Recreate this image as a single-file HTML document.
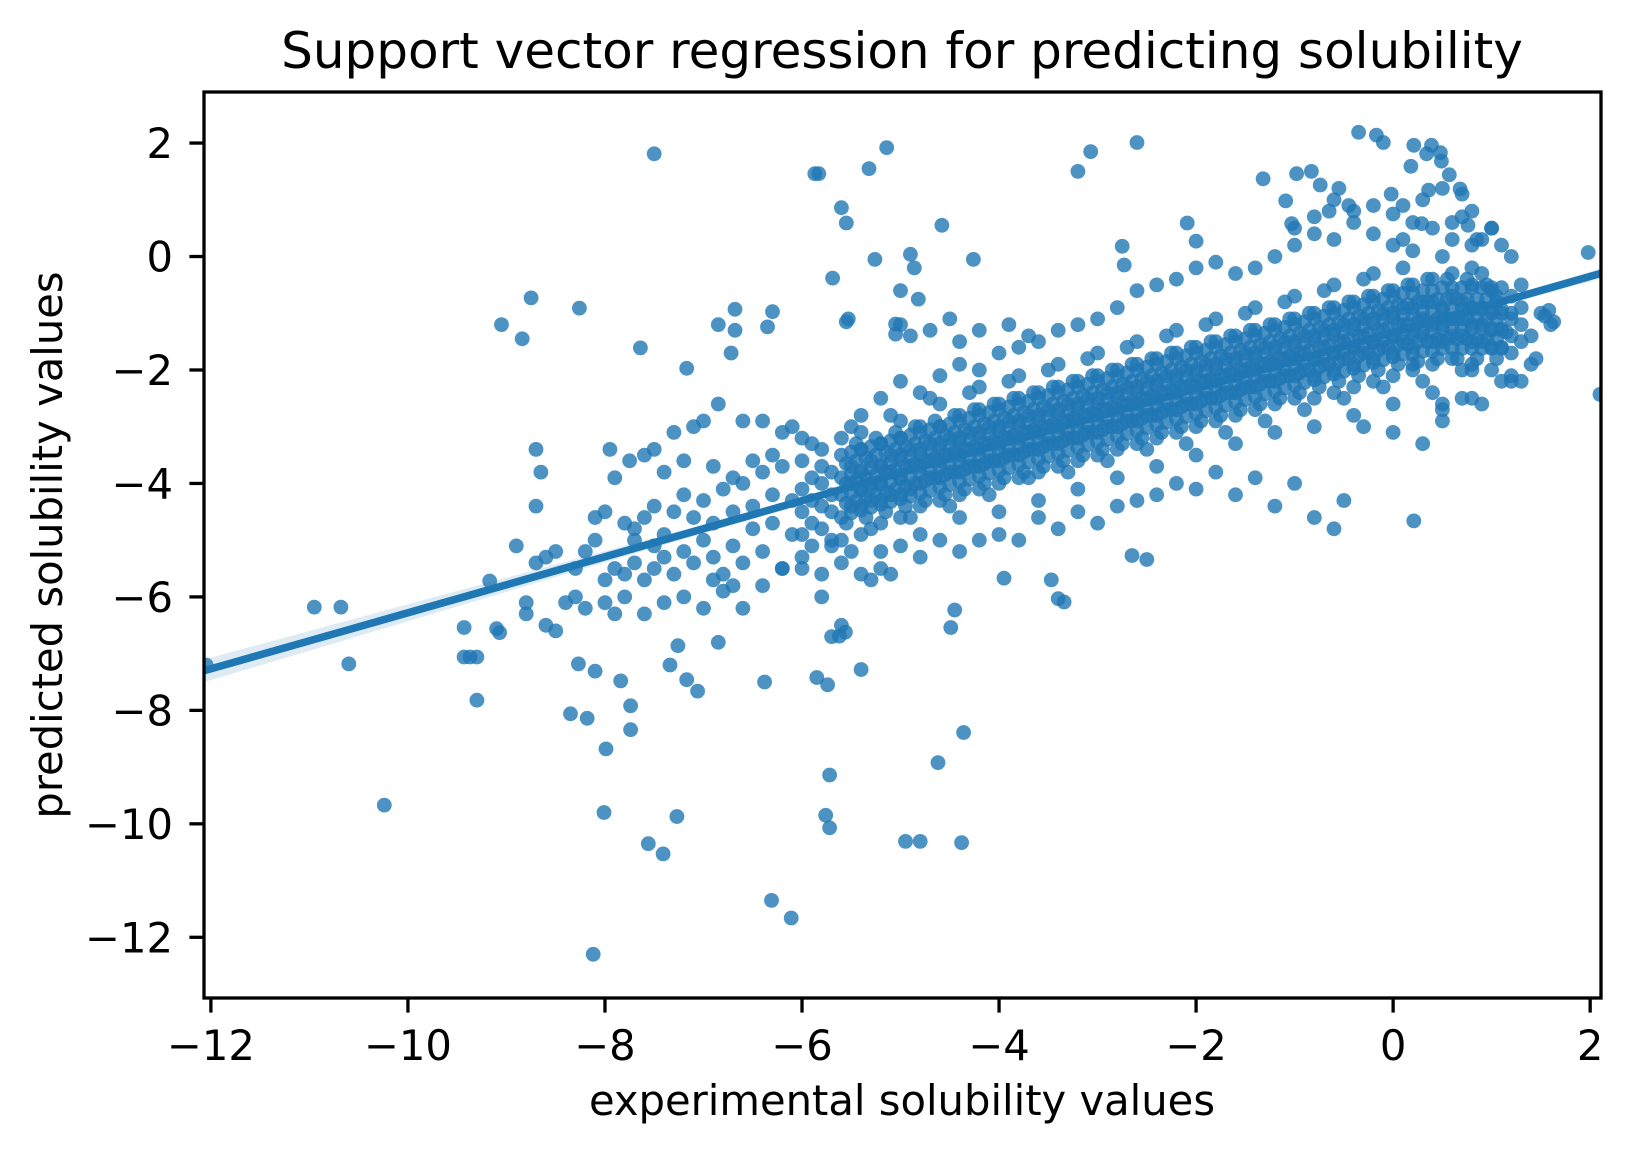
<!DOCTYPE html>
<html><head><meta charset="utf-8"><style>
html,body{margin:0;padding:0;background:#fff;}
svg{display:block;font-family:"DejaVu Sans","Liberation Sans",sans-serif;}
</style></head><body>
<svg id="chart" width="1628" height="1154" viewBox="0 0 1628 1154" xmlns="http://www.w3.org/2000/svg">
<rect width="1628" height="1154" fill="#fff"/>
<defs><clipPath id="plotClip"><rect x="204" y="92" width="1397" height="906"/></clipPath></defs>
<g id="ci" clip-path="url(#plotClip)"></g>
<g id="pts" clip-path="url(#plotClip)"></g>
<g id="fit" clip-path="url(#plotClip)"></g>
<rect x="204" y="92" width="1397" height="906" fill="none" stroke="#000" stroke-width="3.3"/>
<g id="xticks"></g>
<g id="yticks"></g>
<text x="902" y="68" font-size="50" text-anchor="middle">Support vector regression for predicting solubility</text>
<text x="902" y="1115" font-size="41.7" text-anchor="middle">experimental solubility values</text>
<text x="0" y="0" font-size="41.7" text-anchor="middle" transform="translate(62,545) rotate(-90)">predicted solubility values</text>
</svg>
<script>
const xTicks=[-12,-10,-8,-6,-4,-2,0,2];
const yTicks=[2,0,-2,-4,-6,-8,-10,-12];
const fitSlope=0.494;
const fitIntercept=-1.34;
const ciX=[-12.1,-10,-8,-6,-4,-2,0,2.2];
const ciHalf=[0.2,0.15,0.1,0.06,0.04,0.035,0.05,0.09];
const bandX=[-6.0,-5.9,-5.8,-5.7,-5.6,-5.5,-5.4,-5.3,-5.2,-5.1,-5.0,-4.9,-4.8,-4.7,-4.6,-4.5,-4.4,-4.3,-4.2,-4.1,-4.0,-3.9,-3.8,-3.7,-3.6,-3.5,-3.4,-3.3,-3.2,-3.1,-3.0,-2.9,-2.8,-2.7,-2.6,-2.5,-2.4,-2.3,-2.2,-2.1,-2.0,-1.9,-1.8,-1.7,-1.6,-1.5,-1.4,-1.3,-1.2,-1.1,-1.0,-0.9,-0.8,-0.7,-0.6,-0.5,-0.4,-0.3,-0.2,-0.1,0.0,0.1,0.2,0.3,0.4,0.5,0.6,0.7,0.8,0.9,1.0,1.1,1.2,1.3];
const bandY=[
[-3.6,-4.1,-4.5,-4.9,-5.3],[-3.9,-4.3,-4.7,-3.3],
[-3.7,-4.0,-4.4,-4.8,-3.4],[-3.8,-4.2,-4.5,-5.1],
[-3.5,-3.9,-4.2,-4.6,-5.0,-3.2],[-3.7,-4.0,-4.4,-3.0],
[-3.4,-3.8,-4.1,-4.4,-4.9,-3.1],[-3.6,-4.0,-4.3,-4.8],
[-3.3,-3.7,-4.0,-4.3,-4.7,-5.2],[-3.5,-3.8,-4.2,-2.8],
[-3.2,-3.5,-3.9,-4.2,-4.6,-2.9],[-3.4,-3.7,-4.1,-4.6],
[-3.0,-3.4,-3.7,-4.0,-4.4,-4.9],[-3.3,-3.6,-3.9,-2.5],
[-3.0,-3.3,-3.6,-3.9,-4.3,-2.6],[-3.2,-3.5,-3.8,-4.4],
[-2.8,-3.2,-3.5,-3.8,-4.2,-4.6],[-3.1,-3.4,-3.7,-2.4],
[-2.7,-3.1,-3.4,-3.7,-4.1,-2.3],[-3.0,-3.3,-3.6,-4.2],
[-2.6,-3.0,-3.3,-3.6,-4.0,-4.5],[-2.9,-3.2,-3.5,-2.2],
[-2.5,-2.9,-3.2,-3.5,-3.9,-2.1],[-2.8,-3.1,-3.4,-3.9],
[-2.4,-2.8,-3.1,-3.4,-3.8,-4.3],[-2.7,-3.0,-3.3,-2.0],
[-2.3,-2.7,-3.0,-3.3,-3.7,-1.9],[-2.6,-2.9,-3.2,-3.8],
[-2.2,-2.6,-2.9,-3.2,-3.6,-4.1],[-2.5,-2.8,-3.1,-1.8],
[-2.1,-2.5,-2.8,-3.1,-3.5,-1.7],[-2.4,-2.7,-3.0,-3.6],
[-2.0,-2.4,-2.7,-3.0,-3.4,-3.9],[-2.3,-2.6,-2.9,-1.6],
[-1.9,-2.3,-2.6,-2.9,-3.3,-1.5],[-2.2,-2.5,-2.8,-3.4],
[-1.8,-2.2,-2.5,-2.8,-3.2,-3.7],[-2.1,-2.4,-2.7,-1.4],
[-1.7,-2.1,-2.4,-2.7,-3.1,-1.3],[-2.0,-2.3,-2.6,-3.3],
[-1.6,-2.0,-2.3,-2.6,-3.0,-3.5],[-1.9,-2.2,-2.5,-1.2],
[-1.5,-1.9,-2.2,-2.5,-2.9,-1.1],[-1.8,-2.1,-2.4,-3.1],
[-1.4,-1.8,-2.1,-2.4,-2.8,-3.3],[-1.7,-2.0,-2.3,-1.0],
[-1.3,-1.7,-2.0,-2.3,-2.7,-0.9],[-1.6,-1.9,-2.2,-2.9],
[-1.2,-1.6,-1.9,-2.2,-2.6,-3.1],[-1.5,-1.8,-2.1,-0.8],
[-1.1,-1.5,-1.8,-2.1,-2.5,-0.7],[-1.4,-1.7,-2.0,-2.7],
[-1.0,-1.4,-1.8,-2.1,-2.5,-3.0],[-1.3,-1.6,-1.9,-0.6],
[-0.9,-1.3,-1.7,-2.0,-2.4,-0.5],[-1.2,-1.5,-1.8,-2.5],
[-0.8,-1.2,-1.6,-1.9,-2.3,-2.8],[-1.1,-1.4,-1.7,-0.4],
[-0.7,-1.1,-1.5,-1.8,-2.2,-0.3],[-1.0,-1.3,-1.6,-2.3],
[-0.6,-1.0,-1.4,-1.7,-2.1,-2.6],[-0.9,-1.2,-1.5,-0.2],
[-0.5,-0.9,-1.3,-1.6,-2.0,0.1],[-0.8,-1.1,-1.4,-2.2],
[-0.4,-0.8,-1.2,-1.5,-1.9,-2.4],[-0.9,-1.2,-1.5,0.0],
[-0.3,-0.7,-1.1,-1.4,-1.8,0.3],[-0.8,-1.1,-1.4,-2.0],
[-0.5,-0.9,-1.2,-1.5,-1.9,-2.5],[-0.9,-1.2,-1.5,-0.3],
[-0.6,-1.0,-1.3,-1.6,-2.0,0.5],[-1.0,-1.3,-1.6,-2.2],
[-0.7,-1.1,-1.4,-1.7,-2.1],[-0.9,-1.2,-1.5]];
const coreX=[-5.55,-5.45,-5.35,-5.25,-5.15,-5.05,-4.95,-4.85,-4.75,-4.65,-4.55,-4.45,-4.35,-4.25,-4.15,-4.05,-3.95,-3.85,-3.75,-3.65,-3.55,-3.45,-3.35,-3.25,-3.15,-3.05,-2.95,-2.85,-2.75,-2.65,-2.55,-2.45,-2.35,-2.25,-2.15,-2.05,-1.95,-1.85,-1.75,-1.65,-1.55,-1.45,-1.35,-1.25,-1.15,-1.05,-0.95,-0.85,-0.75,-0.65,-0.55,-0.45,-0.35,-0.25,-0.15,-0.05,0.05,0.15,0.25,0.35,0.45,0.55,0.65,0.75,0.85,0.95,1.05];
const coreY=[
[-3.65,-4.0,-4.35,-4.7],[-3.6,-3.95,-4.3,-3.3],[-3.55,-3.9,-4.25,-4.6],[-3.5,-3.85,-4.2,-3.2],
[-3.45,-3.8,-4.15,-4.5],[-3.4,-3.75,-4.1,-3.1],[-3.35,-3.7,-4.05,-4.4],[-3.3,-3.65,-4.0,-3.0],
[-3.25,-3.6,-3.95,-4.3],[-3.2,-3.55,-3.9,-2.9],[-3.15,-3.5,-3.85,-4.2],[-3.1,-3.45,-3.8,-2.8],
[-3.05,-3.4,-3.75,-4.1],[-3.0,-3.35,-3.7,-2.7],[-2.95,-3.3,-3.65,-4.0],[-2.9,-3.25,-3.6,-2.6],
[-2.85,-3.2,-3.55,-3.9],[-2.8,-3.15,-3.5,-2.5],[-2.75,-3.1,-3.45,-3.8],[-2.7,-3.05,-3.4,-2.4],
[-2.65,-3.0,-3.35,-3.7],[-2.6,-2.95,-3.3,-2.3],[-2.55,-2.9,-3.25,-3.6],[-2.5,-2.85,-3.2,-2.2],
[-2.45,-2.8,-3.15,-3.5],[-2.4,-2.75,-3.1,-2.1],[-2.35,-2.7,-3.05,-3.4],[-2.3,-2.65,-3.0,-2.0],
[-2.25,-2.6,-2.95,-3.3],[-2.2,-2.55,-2.9,-1.9],[-2.15,-2.5,-2.85,-3.2],[-2.1,-2.45,-2.8,-1.8],
[-2.05,-2.4,-2.75,-3.1],[-2.0,-2.35,-2.7,-1.7],[-1.95,-2.3,-2.65,-3.0],[-1.9,-2.25,-2.6,-1.6],
[-1.85,-2.2,-2.55,-2.9],[-1.8,-2.15,-2.5,-1.5],[-1.75,-2.1,-2.45,-2.8],[-1.7,-2.05,-2.4,-1.4],
[-1.65,-2.0,-2.35,-2.7],[-1.6,-1.95,-2.3,-1.3],[-1.55,-1.9,-2.25,-2.6],[-1.5,-1.85,-2.2,-1.2],
[-1.45,-1.8,-2.15,-2.5],[-1.4,-1.75,-2.1,-1.1],[-1.35,-1.7,-2.05,-2.4],[-1.3,-1.65,-2.0,-1.0],
[-1.25,-1.6,-1.95,-2.3],[-1.2,-1.55,-1.9,-0.9],[-1.15,-1.5,-1.85,-2.2],[-1.1,-1.45,-1.8,-0.8],
[-1.05,-1.4,-1.75,-2.1],[-1.0,-1.35,-1.7,-0.7],[-0.95,-1.3,-1.65,-2.0],[-0.9,-1.25,-1.6,-0.6],
[-0.85,-1.2,-1.55,-1.9],[-0.85,-1.2,-1.55,-0.5],[-0.8,-1.15,-1.5,-1.85],[-0.8,-1.15,-1.5,-0.4],
[-0.75,-1.1,-1.45,-1.8],[-0.75,-1.1,-1.45,-0.4],[-0.75,-1.1,-1.45,-1.8],[-0.75,-1.1,-1.45,-0.4],
[-0.75,-1.1,-1.45,-1.8],[-0.75,-1.1,-1.45,-0.5],[-0.8,-1.1,-1.45,-1.8]];
const coreY2=[
[-3.83,-4.17,-4.52,-3.45],[-3.78,-4.12,-4.47,-3.4],[-3.73,-4.07,-4.42,-3.35],[-3.68,-4.02,-4.37,-3.3],
[-3.63,-3.97,-4.32,-3.25],[-3.58,-3.92,-4.27,-3.2],[-3.53,-3.87,-4.22,-3.15],[-3.48,-3.82,-4.17,-3.1],
[-3.43,-3.77,-4.12,-3.05],[-3.38,-3.72,-4.07,-3.0],[-3.33,-3.67,-4.02,-2.95],[-3.28,-3.62,-3.97,-2.9],
[-3.23,-3.57,-3.92,-2.85],[-3.18,-3.52,-3.87,-2.8],[-3.13,-3.47,-3.82,-2.75],[-3.08,-3.42,-3.77,-2.7],
[-3.03,-3.37,-3.72,-2.65],[-2.98,-3.32,-3.67,-2.6],[-2.93,-3.27,-3.62,-2.55],[-2.88,-3.22,-3.57,-2.5],
[-2.83,-3.17,-3.52,-2.45],[-2.78,-3.12,-3.47,-2.4],[-2.73,-3.07,-3.42,-2.35],[-2.68,-3.02,-3.37,-2.3],
[-2.63,-2.97,-3.32,-2.25],[-2.58,-2.92,-3.27,-2.2],[-2.53,-2.87,-3.22,-2.15],[-2.48,-2.82,-3.17,-2.1],
[-2.43,-2.77,-3.12,-2.05],[-2.38,-2.72,-3.07,-2.0],[-2.33,-2.67,-3.02,-1.95],[-2.28,-2.62,-2.97,-1.9],
[-2.23,-2.57,-2.92,-1.85],[-2.18,-2.52,-2.87,-1.8],[-2.13,-2.47,-2.82,-1.75],[-2.08,-2.42,-2.77,-1.7],
[-2.03,-2.37,-2.72,-1.65],[-1.98,-2.32,-2.67,-1.6],[-1.93,-2.27,-2.62,-1.55],[-1.88,-2.22,-2.57,-1.5],
[-1.83,-2.17,-2.52,-1.45],[-1.78,-2.12,-2.47,-1.4],[-1.73,-2.07,-2.42,-1.35],[-1.68,-2.02,-2.37,-1.3],
[-1.63,-1.97,-2.32,-1.25],[-1.58,-1.92,-2.27,-1.2],[-1.53,-1.87,-2.22,-1.15],[-1.48,-1.82,-2.17,-1.1],
[-1.43,-1.77,-2.12,-1.05],[-1.38,-1.72,-2.07,-1.0],[-1.33,-1.67,-2.02,-0.95],[-1.28,-1.62,-1.97,-0.9],
[-1.23,-1.57,-1.92,-0.85],[-1.18,-1.52,-1.87,-0.8],[-1.13,-1.47,-1.82,-0.75],[-1.08,-1.42,-1.77,-0.7],
[-1.03,-1.37,-1.72,-0.65],[-1.03,-1.37,-1.72,-0.65],[-0.98,-1.32,-1.67,-0.6],[-0.98,-1.32,-1.67,-0.6],
[-0.93,-1.27,-1.62,-0.55],[-0.93,-1.27,-1.62,-0.55],[-0.93,-1.27,-1.62,-0.55],[-0.93,-1.27,-1.62,-0.55],
[-0.93,-1.27,-1.62,-0.55],[-0.93,-1.27,-1.62,-0.55],[-0.93,-1.27,-1.62,-0.55]];
const outlierPairs=[
[-7.5,1.81],[-5.14,1.92],[-5.32,1.55],[-5.87,1.46],[-5.83,1.46],[-5.6,0.86],[-5.55,0.59],[-3.07,1.85],[-3.2,1.5],[-2.6,2.01],
[-5.26,-0.05],[-4.58,0.55],[-4.26,-0.05],[-4.9,0.04],[-4.86,-0.2],[-5.69,-0.38],[-4.82,-0.75],[-5.0,-0.6],
[-9.05,-1.2],[-8.84,-1.45],[-8.75,-0.73],[-8.26,-0.91],[-7.64,-1.61],[-7.17,-1.97],[-6.68,-0.93],[-6.85,-1.2],[-6.68,-1.3],[-6.72,-1.7],[-6.3,-0.97],[-6.35,-1.24],
[-5.53,-1.1],[-5.55,-1.15],[-5.05,-1.19],[-5.05,-1.37],
[-10.95,-6.18],[-10.68,-6.18],[-10.6,-7.18],[-10.24,-9.67],[-9.43,-6.54],[-9.43,-7.06],[-9.37,-7.06],[-9.3,-7.06],[-9.3,-7.82],[-9.17,-5.72],[-9.1,-6.56],[-9.07,-6.63],
[-8.35,-8.06],[-8.18,-8.14],[-8.12,-12.3],[-7.99,-8.68],[-8.01,-9.8],[-8.1,-7.31],[-8.27,-7.18],[-7.84,-7.48],[-7.74,-7.92],[-7.74,-8.34],
[-7.56,-10.35],[-7.41,-10.53],[-7.27,-9.87],[-7.34,-7.2],[-7.17,-7.46],[-7.06,-7.66],[-7.26,-6.86],[-6.31,-11.35],[-6.11,-11.66],[-6.38,-7.5],[-6.85,-6.8],
[-5.85,-7.42],[-5.74,-7.55],[-5.72,-9.14],[-5.76,-9.85],[-5.72,-10.07],[-5.4,-7.28],[-5.62,-6.69],[-5.56,-6.62],
[-4.95,-10.31],[-4.8,-10.31],[-4.38,-10.33],[-4.62,-8.92],[-4.36,-8.39],[-4.49,-6.54],[-4.45,-6.23],[-3.95,-5.67],[-3.47,-5.7],[-3.4,-6.03],[-3.34,-6.09],[-2.65,-5.27],[-2.5,-5.34],[0.21,-4.66],[2.1,-2.43],[-12.05,-7.2],
[-0.35,2.19],[-0.17,2.14],[-0.1,2.01],[0.21,1.96],[0.34,1.81],[0.39,1.96],[0.48,1.83],[0.18,1.59],[0.49,1.68],[-0.02,1.1],[0.0,0.75],[0.1,0.3],[0.29,0.58],[0.36,1.17],[0.57,1.44],[0.68,1.19],[0.7,0.7],[0.76,0.55],[0.85,0.3],[0.8,-0.2],
[-1.32,1.37],[-0.98,1.46],[-0.83,1.5],[-0.74,1.26],[-1.09,0.98],[-1.03,0.58],[-2.09,0.59],[-2.0,0.27],[-2.75,0.18],[-2.73,-0.15],[-0.55,1.2],[-0.45,0.9],[-0.65,0.8],
[1.98,0.07],[1.58,-0.95],[1.54,-1.05],[1.63,-1.15],[1.15,-1.33],[1.45,-1.8],[1.3,-2.2],[1.2,-1.0],[1.05,-0.7],
[-8.9,-5.1],[-8.7,-5.4],[-8.6,-5.3],[-8.5,-5.2],[-8.3,-5.5],[-8.2,-5.2],[-8.1,-5.0],[-8.8,-6.1],[-8.8,-6.3],[-8.6,-6.5],[-8.5,-6.6],[-8.4,-6.1],[-8.3,-6.0],[-8.2,-6.2],[-8.0,-6.1],[-7.9,-6.3],[-7.8,-6.0],[-8.7,-4.4],[-8.7,-3.4],[-8.65,-3.8],[-8.1,-4.6],[-8.0,-4.5],[-7.95,-3.4],[-7.9,-3.9],[-7.8,-4.7],[-7.7,-4.8],[-7.75,-3.6],[-7.6,-3.5],[-7.5,-3.4],[-7.4,-3.8],[-7.3,-3.1],[-7.2,-3.6],[-7.1,-3.0],[-7.0,-2.9],[-6.85,-2.6],[-6.6,-2.9],[-6.4,-2.9],[-6.2,-3.1],[-6.1,-3.0],[-6.0,-3.2],
[-8.0,-5.7],[-7.9,-5.5],[-7.8,-5.6],[-7.7,-5.4],[-7.6,-5.7],[-7.5,-5.5],[-7.4,-5.3],[-7.3,-5.6],[-7.2,-5.2],[-7.1,-5.4],[-7.0,-5.0],[-6.9,-5.3],[-6.8,-5.6],[-6.7,-5.1],[-6.6,-5.4],[-6.5,-4.8],[-6.4,-5.2],[-6.3,-4.7],[-6.2,-5.5],[-6.1,-4.9],
[-7.6,-4.6],[-7.5,-4.4],[-7.4,-4.9],[-7.3,-4.5],[-7.2,-4.2],[-7.1,-4.6],[-7.0,-4.3],[-6.9,-4.7],[-6.8,-4.1],[-6.7,-4.5],[-6.6,-4.0],[-6.5,-4.4],[-6.4,-3.8],[-6.3,-4.2],[-6.2,-3.7],[-6.1,-4.3],[-6.9,-3.7],[-6.7,-3.9],[-6.5,-3.6],[-6.3,-3.5],
[-7.6,-6.3],[-7.4,-6.1],[-7.2,-6.0],[-7.0,-6.2],[-6.8,-5.9],[-6.6,-6.2],[-6.4,-5.8],[-6.2,-5.5],[-7.7,-5.0],[-7.5,-5.1],[-6.9,-5.7],[-6.7,-5.8],
[-6.0,-5.5],[-5.9,-5.1],[-5.8,-5.6],[-5.7,-5.0],[-5.6,-5.4],[-5.5,-5.2],[-5.4,-5.6],[-5.2,-5.5],[-5.0,-5.1],[-4.8,-5.3],[-4.6,-5.0],[-4.4,-5.2],[-4.2,-5.0],[-4.0,-4.9],[-3.8,-5.0],[-3.6,-4.6],[-3.4,-4.8],[-3.2,-4.5],[-3.0,-4.7],[-2.8,-4.4],[-2.6,-4.3],[-2.4,-4.2],[-2.2,-4.0],[-2.0,-4.1],[-1.8,-3.8],[-1.6,-4.2],[-1.4,-3.9],[-1.2,-4.4],[-1.0,-4.0],[-0.8,-4.6],[-0.6,-4.8],[-0.5,-4.3],[-0.3,-3.0],[0.0,-3.1],[0.3,-3.3],[0.5,-2.7],[0.7,-2.5],[0.5,-2.9],
[-5.8,-6.0],[-5.6,-6.5],[-5.7,-6.7],[-5.3,-5.7],[-5.1,-5.6],[-5.4,-2.8],[-5.2,-2.5],[-5.0,-2.2],[-4.8,-2.4],[-4.6,-2.1],[-4.4,-1.9],[-4.2,-2.0],[-4.0,-1.7],[-3.8,-1.6],[-3.6,-1.5],[-3.4,-1.3],[-3.2,-1.2],[-3.0,-1.1],[-2.8,-0.9],[-2.6,-0.6],[-2.4,-0.5],[-2.2,-0.4],[-2.0,-0.2],[-1.8,-0.1],[-1.6,-0.3],[-1.4,-0.2],[-1.2,0.0],[-1.0,0.2],[-0.8,0.4],[-0.6,0.3],[-0.4,0.6],[-0.2,0.4],[0.0,0.2],[0.2,0.6],[0.4,0.5],[0.6,0.6],[0.8,0.2],[1.0,0.5],
[-4.9,-1.4],[-5.0,-1.2],[-4.7,-1.3],[-4.5,-1.1],[-3.9,-1.2],[-3.7,-1.4],[-4.4,-1.5],[-4.2,-1.3],
[0.3,1.0],[0.5,1.2],[0.7,1.1],[0.8,0.8],[0.1,0.9],[-0.2,0.9],[-0.4,0.8],[-0.6,1.0],[-0.8,0.7],[-1.0,0.5],[0.9,0.3],[1.1,0.2],[1.2,0.0],[1.3,-0.5],[1.5,-1.0],[1.6,-1.2],[1.4,-1.4],[1.4,-1.9],[1.2,-2.2],[0.9,-2.6],[0.5,-2.6],[0.2,-1.9],[0.8,-2.0]
];
const X0=204,X1=1601,Y0=92,Y1=998,XMIN=-12.07,XMAX=2.11,YMIN=-13.07,YMAX=2.9;
function sx(v){return X0+(v-XMIN)/(XMAX-XMIN)*(X1-X0);}
function sy(v){return Y0+(YMAX-v)/(YMAX-YMIN)*(Y1-Y0);}
const NS="http://www.w3.org/2000/svg";
function mk(t,a){const e=document.createElementNS(NS,t);for(const k in a)e.setAttribute(k,a[k]);return e;}
const pts=document.getElementById('pts');
function dot(x,y){
  const c=mk('circle',{cx:sx(x).toFixed(1),cy:sy(y).toFixed(1),r:7.4,fill:'#1f77b4','fill-opacity':0.8});
  
  
  pts.appendChild(c);
}
outlierPairs.forEach(p=>dot(p[0],p[1]));
bandX.forEach((x,i)=>bandY[i].forEach(y=>dot(x,y)));
coreX.forEach((x,i)=>coreY[i].forEach(y=>dot(x,y)));
coreX.forEach((x,i)=>coreY2[i].forEach(y=>dot(x+0.05,y)));
let up=[],lo=[];
ciX.forEach((x,i)=>{const m=fitIntercept+fitSlope*x;up.push(sx(x).toFixed(1)+','+sy(m+ciHalf[i]).toFixed(1));lo.unshift(sx(x).toFixed(1)+','+sy(m-ciHalf[i]).toFixed(1));});
const band=mk('polygon',{points:up.concat(lo).join(' '),fill:'#1f77b4','fill-opacity':0.15});


document.getElementById('ci').appendChild(band);
const fl=mk('line',{x1:sx(XMIN),y1:sy(fitIntercept+fitSlope*XMIN),x2:sx(XMAX),y2:sy(fitIntercept+fitSlope*XMAX),stroke:'#1f77b4','stroke-width':7.5});


document.getElementById('fit').appendChild(fl);
const xg=document.getElementById('xticks');
xTicks.forEach(t=>{
  const x=sx(t);
  const l=mk('line',{x1:x,y1:Y1,x2:x,y2:Y1+14.6,stroke:'#000','stroke-width':3.3});
  
  
  xg.appendChild(l);
  const tx=mk('text',{x:x,y:1060,'font-size':41.7,'text-anchor':'middle'});
  tx.textContent=(t<0?'\u2212':'')+Math.abs(t);
  
  
  xg.appendChild(tx);
});
const yg=document.getElementById('yticks');
yTicks.forEach(t=>{
  const y=sy(t);
  const l=mk('line',{x1:X0-14.6,y1:y,x2:X0,y2:y,stroke:'#000','stroke-width':3.3});
  
  
  yg.appendChild(l);
  const tx=mk('text',{x:173,y:y+15,'font-size':41.7,'text-anchor':'end'});
  tx.textContent=(t<0?'\u2212':'')+Math.abs(t);
  
  
  yg.appendChild(tx);
});
</script>
</body></html>
